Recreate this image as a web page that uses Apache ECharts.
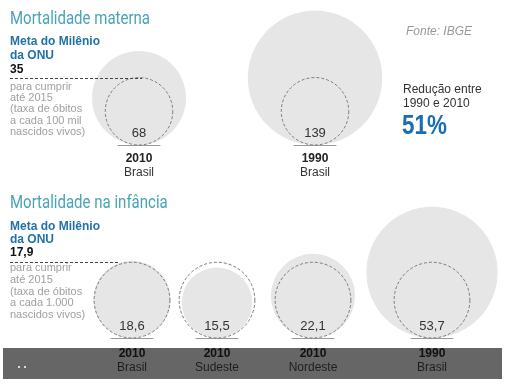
<!DOCTYPE html>
<html>
<head>
<meta charset="utf-8">
<script src="https://cdn.jsdelivr.net/npm/echarts@6/dist/echarts.min.js"></script>
<style>
  html, body { margin: 0; padding: 0; background: #fff; }
  #chart { width: 508px; height: 385px; }
</style>
</head>
<body>
<div id="chart"></div>
<script>
// ---- Data ----
const mmYears = ['2010', '1990'];
const mmPlaces = ['Brasil', 'Brasil'];
const mmValues = [68, 139];
const mmGoal = 35;

const infYears = ['2010', '2010', '2010', '1990'];
const infPlaces = ['Brasil', 'Sudeste', 'Nordeste', 'Brasil'];
const infValues = [18.6, 15.5, 22.1, 53.7];
const infGoal = 17.9;

// ---- Layout (positions / sizes) ----
const FONT = '"Liberation Sans", Arial, sans-serif';
const sections = [
  { years: mmYears, places: mmPlaces, values: mmValues, goal: mmGoal,
    centers: [139, 315], baseline: 145, k: 5.7, labelMargin: 7,
    yearColor: '#222', placeColor: '#333', lineEnd: 142 },
  { years: infYears, places: infPlaces, values: infValues, goal: infGoal,
    centers: [132, 217, 313, 432], baseline: 338, k: 8.95, labelMargin: 9,
    yearColor: '#111', placeColor: '#1e1e1e', lineEnd: 120 }
];

const fmt = v => String(v).replace('.', ',');

const grids = [], xAxes = [], yAxes = [], series = [];
sections.forEach(sec => {
  const sizeFn = v => 2 * sec.k * Math.sqrt(v[2]);
  sec.values.forEach((val, i) => {
    const gi = grids.length;
    const cx = sec.centers[i];
    grids.push({ left: cx - 21, width: 42, top: sec.baseline - 100, height: 100 });
    xAxes.push({
      type: 'category', gridIndex: gi, data: [sec.years[i] + '|' + sec.places[i]],
      boundaryGap: true,
      axisLine: { show: true, lineStyle: { color: '#9a9a9a', width: 1 } },
      axisTick: { show: false }, splitLine: { show: false },
      axisLabel: {
        interval: 0, margin: sec.labelMargin,
        formatter: s => { const p = s.split('|'); return '{y|' + p[0] + '}\n{p|' + p[1] + '}'; },
        rich: {
          y: { fontFamily: FONT, fontWeight: 'bold', fontSize: 12, color: sec.yearColor, lineHeight: 14 },
          p: { fontFamily: FONT, fontSize: 12, color: sec.placeColor, lineHeight: 14 }
        }
      }
    });
    yAxes.push({ type: 'value', gridIndex: gi, min: 0, max: 1, show: false, splitLine: { show: false } });
    series.push({
      type: 'scatter', xAxisIndex: gi, yAxisIndex: gi, clip: false, silent: true, z: 2,
      symbol: 'circle', symbolSize: sizeFn, symbolOffset: [0, '-50%'],
      itemStyle: { color: '#e6e6e6', opacity: 1 },
      label: {
        show: true, position: 'insideBottom', distance: 5,
        formatter: p => fmt(p.value[2]),
        fontFamily: FONT, fontSize: 13, color: '#333'
      },
      data: [[0, 0, val]]
    });
    series.push({
      type: 'scatter', xAxisIndex: gi, yAxisIndex: gi, clip: false, silent: true, z: 3,
      symbol: 'circle', symbolSize: sizeFn, symbolOffset: [0, '-50%'],
      itemStyle: { color: 'rgba(0,0,0,0)', borderColor: '#7a7a7a', borderWidth: 1, borderType: [3, 2], opacity: 1 },
      data: [[0, 0, sec.goal]]
    });
  });
});

const graphic = [];
// bottom dark bar
graphic.push({ type: 'rect', z: -10, shape: { x: 3, y: 348, width: 499, height: 31 }, style: { fill: '#666' } });
graphic.push({ type: 'circle', z: 100, shape: { cx: 19, cy: 367, r: 1 }, style: { fill: '#fff' } });
graphic.push({ type: 'circle', z: 100, shape: { cx: 25, cy: 367, r: 1 }, style: { fill: '#fff' } });

// dashed goal lines
sections.forEach(sec => {
  const y = Math.round(sec.baseline - 2 * sec.k * Math.sqrt(sec.goal)) + 0.5;
  graphic.push({ type: 'line', z: 100, shape: { x1: 10, y1: y, x2: sec.lineEnd, y2: y },
    style: { stroke: '#444', lineWidth: 1, lineDash: [3, 2] } });
});

function txt(x, y, text, font, fill, va, lh, scaleX) {
  const el = { type: 'text', z: 100, x: x, y: y, style: { text: text, font: font, fill: fill, align: 'left', verticalAlign: va || 'middle' } };
  if (lh) el.style.lineHeight = lh;
  if (scaleX) el.scaleX = scaleX;
  return el;
}
const titleFont = '19px Roboto, sans-serif';
graphic.push(txt(10, 19, 'Mortalidade materna', titleFont, '#48a3b8', 'middle', null, 0.79));
graphic.push(txt(10, 35, 'Meta do Milênio\nda ONU', 'bold 12px ' + FONT, '#2272a8', 'top', 14));
graphic.push(txt(10, 70, fmt(mmGoal), 'bold 12px ' + FONT, '#111'));
graphic.push(txt(10, 81.4, 'para cumprir\naté 2015\n(taxa de óbitos\na cada 100 mil\nnascidos vivos)', '11px ' + FONT, '#a0a0a0', 'top', 11.2));

graphic.push(txt(10, 203, 'Mortalidade na infância', titleFont, '#48a3b8', 'middle', null, 0.79));
graphic.push(txt(10, 220.5, 'Meta do Milênio\nda ONU', 'bold 12px ' + FONT, '#2272a8', 'top', 13));
graphic.push(txt(10, 253, fmt(infGoal), 'bold 12px ' + FONT, '#111'));
graphic.push(txt(10, 262, 'para cumprir\naté 2015\n(taxa de óbitos\na cada 1.000\nnascidos vivos)', '11px ' + FONT, '#a0a0a0', 'top', 11.8));

graphic.push(txt(406, 32, 'Fonte: IBGE', 'italic 12px ' + FONT, '#999'));
graphic.push(txt(403, 83.25, 'Redução entre\n1990 e 2010', '12px ' + FONT, '#333', 'top', 13.5));
graphic.push(txt(402, 127, '51%', 'bold 27px ' + FONT, '#1a6db3', 'middle', null, 0.83));

const chart = echarts.init(document.getElementById('chart'), null, { renderer: 'canvas' });
chart.setOption({
  animation: false,
  backgroundColor: '#fff',
  grid: grids,
  xAxis: xAxes,
  yAxis: yAxes,
  series: series,
  graphic: graphic
});
</script>
</body>
</html>
